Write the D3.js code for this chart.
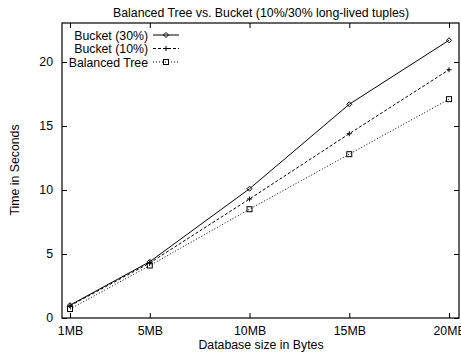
<!DOCTYPE html>
<html lang='en'>
	<head>
		<title>Balanced Tree vs. Bucket</title>
		<script type='text/javascript' src='https://cdn.jsdelivr.net/npm/d3@7'></script>
		<style>
			body { margin: 0; background: #fff; }
			text { font-family: 'Liberation Sans', Arial, sans-serif; font-size: 12.3px; fill: #000; }
		</style>
	</head>
	<body>
		<script type='text/javascript'>
		var sizes = [1, 5, 10, 15, 20];
		var size_labels = ['1MB', '5MB', '10MB', '15MB', '20MB'];
		var y_ticks = [0, 5, 10, 15, 20];
		var series_names = ['Bucket (30%)', 'Bucket (10%)', 'Balanced Tree'];
		var bucket30 = [1.0, 4.4, 10.1, 16.7, 21.7];
		var bucket10 = [0.95, 4.3, 9.3, 14.4, 19.4];
		var balanced = [0.7, 4.1, 8.5, 12.8, 17.1];

		{
			var width = 461, height = 354;
			var plot_left = 62, plot_right = 459, plot_top = 23, plot_bottom = 318;
			var svg = d3.select('body').append('svg').attr('width', width).attr('height', height);

			var x = d3.scaleLinear().domain([0.6, 20.5]).range([plot_left, plot_right]);
			var y = d3.scaleLinear().domain([0, 23.05]).range([plot_bottom, plot_top]);

			var series = [
				{name: series_names[0], values: bucket30, dash: null, marker: 'diamond'},
				{name: series_names[1], values: bucket10, dash: '3,2', marker: 'plus'},
				{name: series_names[2], values: balanced, dash: '1,2', marker: 'square'}
			];

			function drawMarker(g, type, cx, cy) {
				if (type == 'diamond')
					g.append('path').attr('d', 'M' + cx + ',' + (cy - 2.5) + 'L' + (cx + 2.5) + ',' + cy + 'L' + cx + ',' + (cy + 2.5) + 'L' + (cx - 2.5) + ',' + cy + 'Z')
						.attr('fill', 'none').attr('stroke', '#000').attr('stroke-width', 1);
				else if (type == 'plus')
					g.append('path').attr('d', 'M' + (cx - 2.5) + ',' + cy + 'h5M' + cx + ',' + (cy - 2.5) + 'v5')
						.attr('stroke', '#000').attr('stroke-width', 1);
				else
					g.append('rect').attr('x', cx - 2.5).attr('y', cy - 2.5).attr('width', 5).attr('height', 5)
						.attr('fill', 'none').attr('stroke', '#000').attr('stroke-width', 1);
			}

			// axes (ticks inward, mirrored)
			var xb = d3.axisBottom(x).tickValues(sizes).tickFormat((d, i) => size_labels[i]).tickSizeInner(-5).tickSizeOuter(0).tickPadding(8);
			var xt = d3.axisTop(x).tickValues(sizes).tickFormat('').tickSizeInner(-5).tickSizeOuter(0);
			var yl = d3.axisLeft(y).tickValues(y_ticks).tickSizeInner(-5).tickSizeOuter(0).tickPadding(9);
			var yr = d3.axisRight(y).tickValues(y_ticks).tickFormat('').tickSizeInner(-5).tickSizeOuter(0);

			[svg.append('g').attr('transform', 'translate(0,' + plot_bottom + ')').call(xb),
			 svg.append('g').attr('transform', 'translate(0,' + plot_top + ')').call(xt),
			 svg.append('g').attr('transform', 'translate(' + plot_left + ',0)').call(yl),
			 svg.append('g').attr('transform', 'translate(' + plot_right + ',0)').call(yr)].forEach(function(g) {
				g.select('.domain').remove();
				g.selectAll('line').attr('stroke', '#000');
				g.selectAll('text').style('font-size', '12.3px').style('font-family', "'Liberation Sans', Arial, sans-serif").attr('fill', '#000');
			});

			svg.append('rect').attr('x', plot_left).attr('y', plot_top).attr('width', plot_right - plot_left).attr('height', plot_bottom - plot_top)
				.attr('fill', 'none').attr('stroke', '#000').attr('stroke-width', 1.2);

			var line = d3.line().x((d, i) => x(sizes[i])).y(d => y(d));
			series.forEach(function(s) {
				svg.append('path').datum(s.values).attr('d', line)
					.attr('fill', 'none').attr('stroke', '#000').attr('stroke-width', 1)
					.attr('stroke-dasharray', s.dash);
				var g = svg.append('g');
				s.values.forEach((v, i) => drawMarker(g, s.marker, x(sizes[i]), y(v)));
			});

			// legend
			series.forEach(function(s, i) {
				var ly = 35 + i * 13.5;
				svg.append('text').attr('x', 148).attr('y', ly + 4.5).attr('text-anchor', 'end').text(s.name);
				svg.append('line').attr('x1', 153).attr('x2', 179).attr('y1', ly).attr('y2', ly)
					.attr('stroke', '#000').attr('stroke-width', 1).attr('stroke-dasharray', s.dash);
				drawMarker(svg.append('g'), s.marker, 166, ly);
			});

			svg.append('text').attr('x', 261).attr('y', 17).attr('text-anchor', 'middle').text('Balanced Tree vs. Bucket (10%/30% long-lived tuples)');
			svg.append('text').attr('x', 261).attr('y', 349).attr('text-anchor', 'middle').text('Database size in Bytes');
			svg.append('text').attr('transform', 'translate(19,170) rotate(-90)').attr('text-anchor', 'middle').text('Time in Seconds');
		}
		</script>
	</body>
</html>
